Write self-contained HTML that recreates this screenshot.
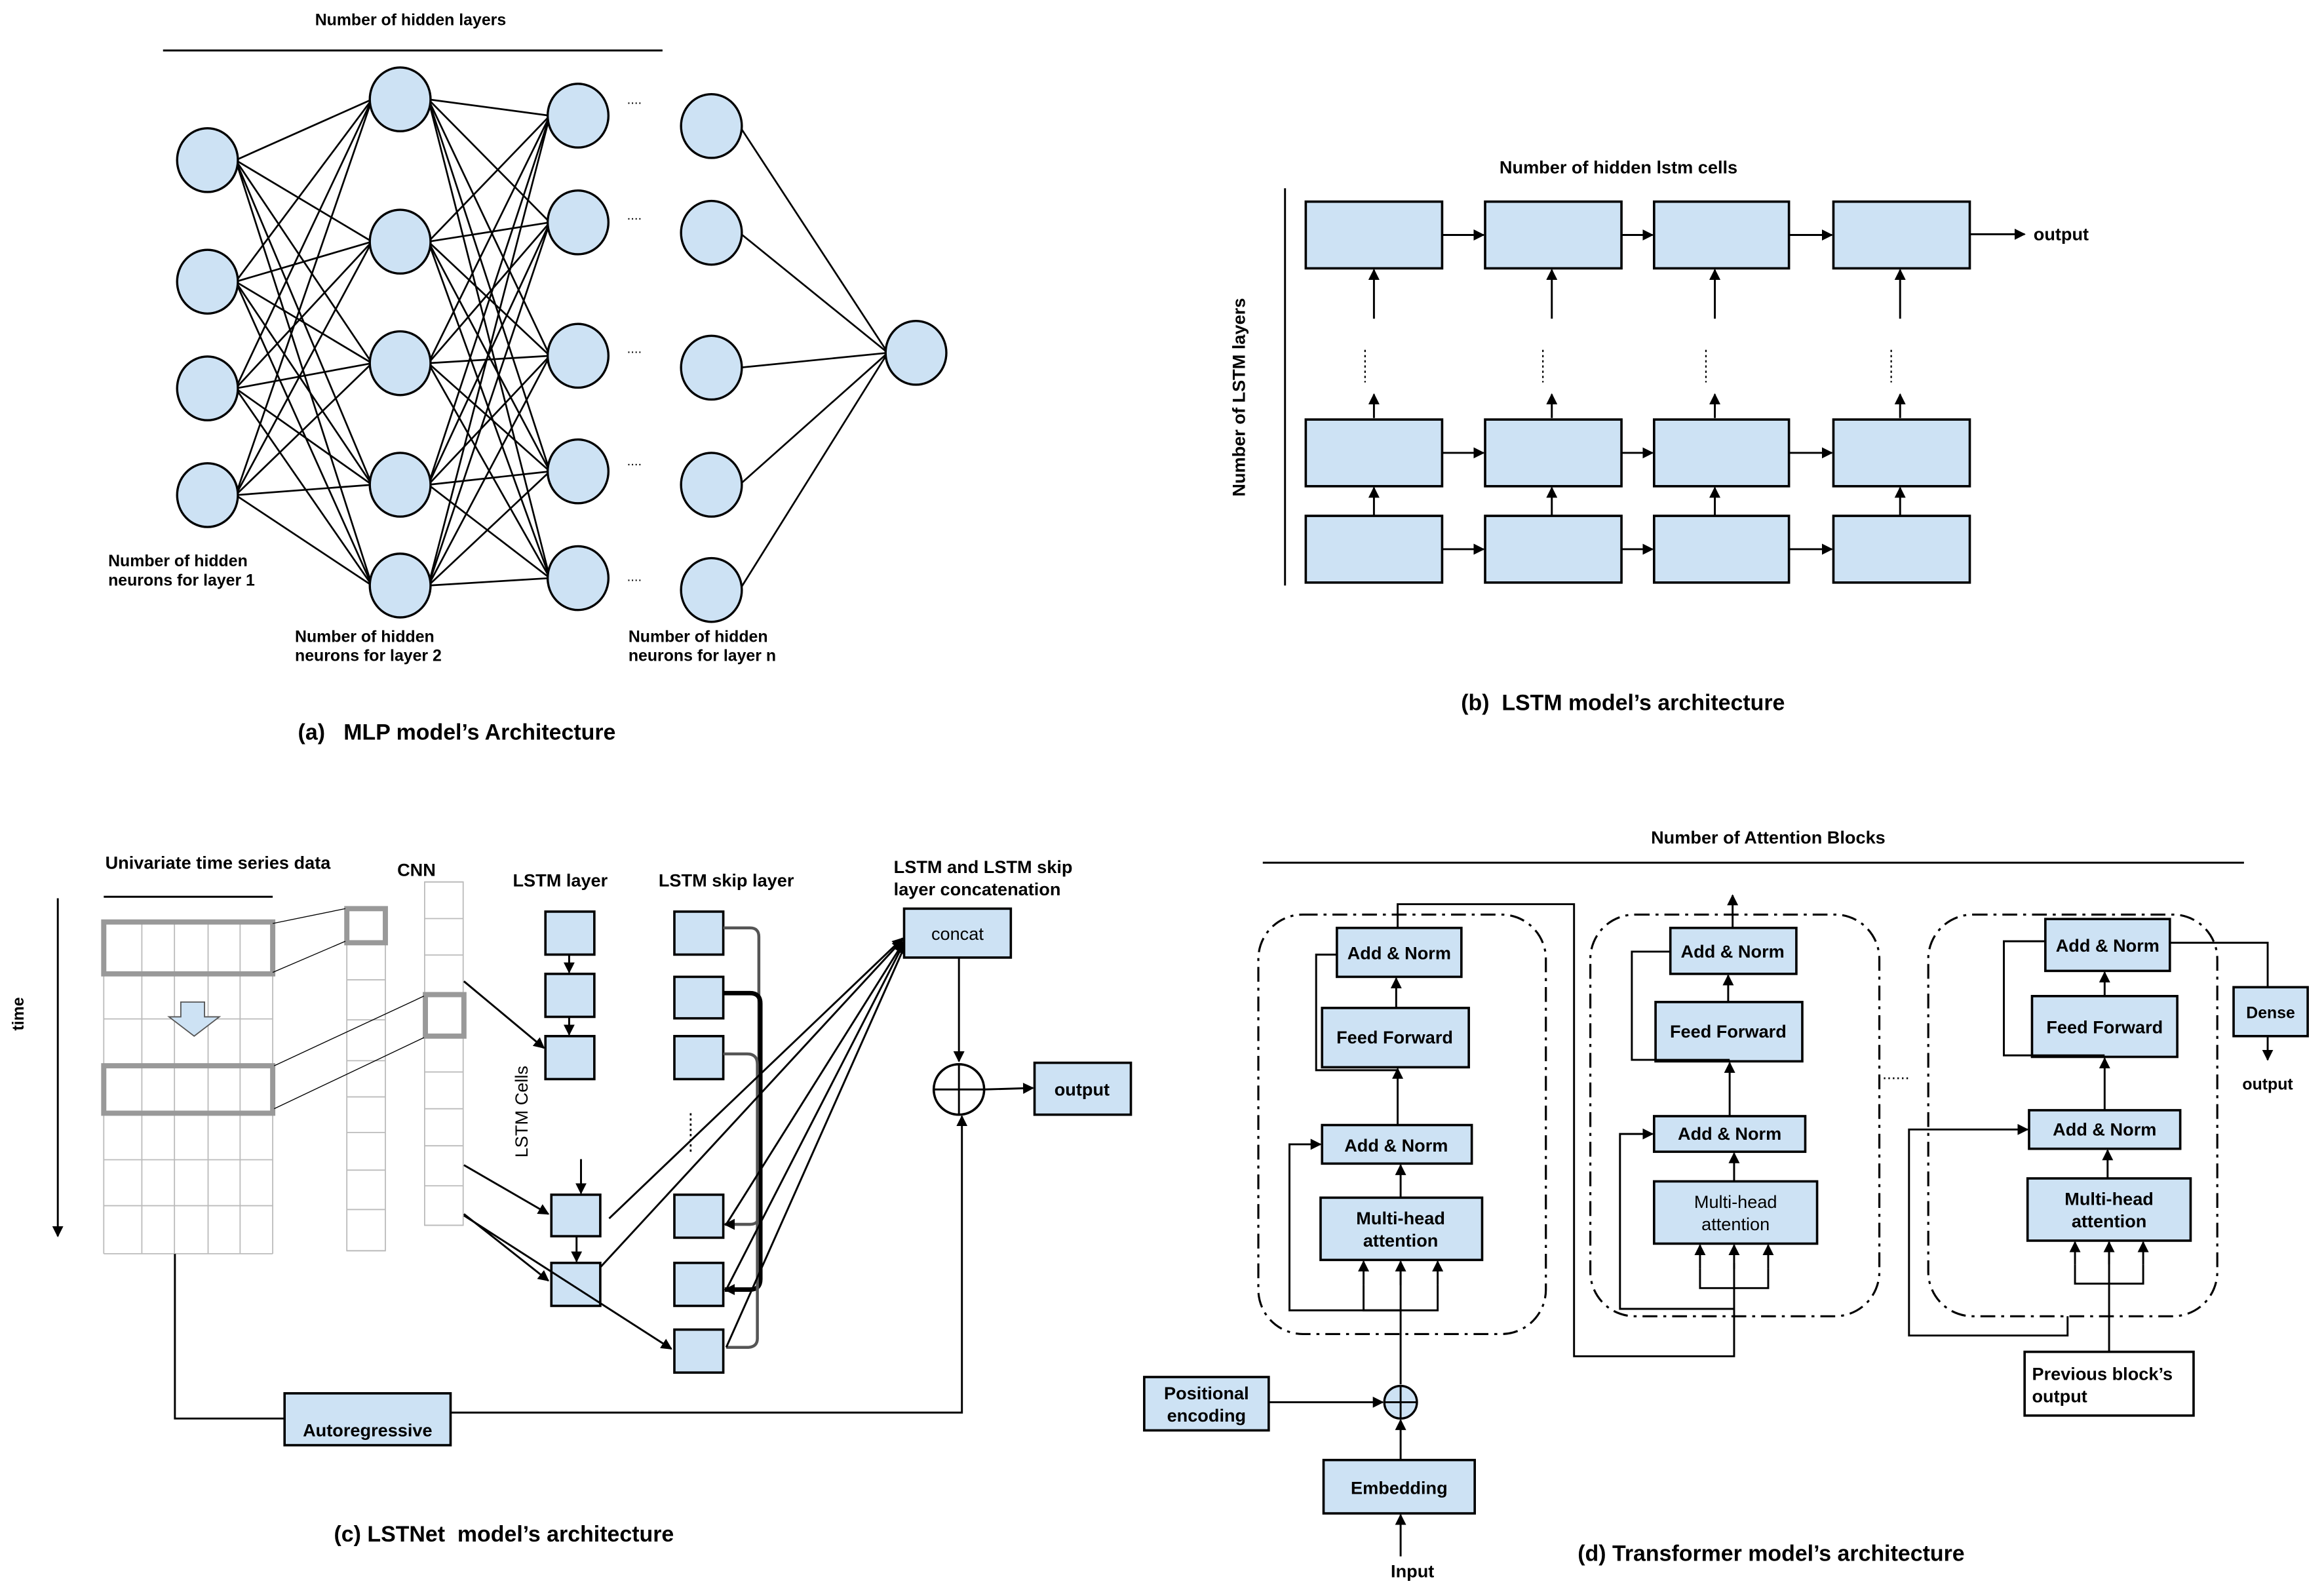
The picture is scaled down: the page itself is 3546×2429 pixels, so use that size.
<!DOCTYPE html>
<html><head><meta charset="utf-8"><style>
html,body{margin:0;padding:0;background:#fff}
svg{display:block}
text{font-family:"Liberation Sans",Arial,sans-serif;font-weight:bold;fill:#000}
.pre{white-space:pre}
.b{fill:#cde2f4;stroke:#000;stroke-width:1.6}
.l{stroke:#000;stroke-width:1.3;fill:none}
.d{fill:none;stroke:#000;stroke-width:1.4;stroke-dasharray:10 4 2 4}
</style></head><body>
<svg width="3546" height="2429" viewBox="0 0 1568 1074" xmlns="http://www.w3.org/2000/svg">
<defs>
<marker id="a" viewBox="0 0 10 10" refX="9" refY="5" markerWidth="7.5" markerHeight="7.5" markerUnits="userSpaceOnUse" orient="auto"><path d="M0,0L10,5L0,10z" fill="#000"/></marker>
</defs>
<rect width="1568" height="1074" fill="#fff"/>

<!-- (a) MLP -->
<text x="277" y="17" font-size="11" text-anchor="middle">Number of hidden layers</text>
<line class="l" x1="110" y1="34" x2="447" y2="34"/>
<g id="mlp"></g>
<g font-size="11">
<text x="73" y="382">Number of hidden</text><text x="73" y="395">neurons for layer 1</text>
<text x="199" y="433">Number of hidden</text><text x="199" y="446">neurons for layer 2</text>
<text x="424" y="433">Number of hidden</text><text x="424" y="446">neurons for layer n</text>
</g>
<g font-size="9" style="font-weight:normal">
<text x="423" y="70" style="font-weight:normal">....</text><text x="423" y="148" style="font-weight:normal">....</text><text x="423" y="238" style="font-weight:normal">....</text><text x="423" y="314" style="font-weight:normal">....</text><text x="423" y="392" style="font-weight:normal">....</text>
</g>
<text x="201" y="499" font-size="15" class="pre">(a)   MLP model’s Architecture</text>

<!-- (b) LSTM -->
<text x="1092" y="117" font-size="12" text-anchor="middle">Number of hidden lstm cells</text>
<line class="l" x1="867" y1="127" x2="867" y2="395"/>
<text transform="translate(840,268) rotate(-90)" font-size="12" text-anchor="middle">Number of LSTM layers</text>
<g id="lstm"></g>
<text x="1372" y="162" font-size="12">output</text>
<text x="1095" y="479" font-size="15" text-anchor="middle" class="pre">(b)  LSTM model’s architecture</text>

<!-- (c) LSTNet -->
<text x="71" y="586" font-size="12">Univariate time series data</text>
<line class="l" x1="70" y1="605" x2="184" y2="605"/>
<line class="l" x1="39" y1="606" x2="39" y2="834" marker-end="url(#a)" stroke-width="1.6"/>
<text transform="translate(16,684) rotate(-90)" font-size="11" text-anchor="middle">time</text>
<g id="grid"></g>
<text x="281" y="591" font-size="12" text-anchor="middle">CNN</text>
<text x="378" y="598" font-size="12" text-anchor="middle">LSTM layer</text>
<text x="490" y="598" font-size="12" text-anchor="middle">LSTM skip layer</text>
<text x="603" y="589" font-size="12">LSTM and LSTM skip</text>
<text x="603" y="604" font-size="12">layer concatenation</text>
<polygon points="122,676 138,676 138,686 148,686 131,699 114,686 122,686" fill="#cde2f4" stroke="#555" stroke-width="0.8"/>
<rect class="b" x="368" y="615" width="33" height="29"/>
<rect class="b" x="368" y="657" width="33" height="29"/>
<rect class="b" x="368" y="699" width="33" height="29"/>
<line class="l" x1="384" y1="644" x2="384" y2="656" marker-end="url(#a)"/>
<line class="l" x1="384" y1="686" x2="384" y2="698" marker-end="url(#a)"/>
<line class="l" x1="313" y1="662" x2="367" y2="707" marker-end="url(#a)"/>
<text transform="translate(356,750) rotate(-90)" font-size="12" text-anchor="middle" style="font-weight:normal">LSTM Cells</text>
<rect class="b" x="372" y="806" width="33" height="28"/>
<rect class="b" x="372" y="852" width="33" height="29"/>
<line class="l" x1="392" y1="782" x2="392" y2="805" marker-end="url(#a)"/>
<line class="l" x1="389" y1="834" x2="389" y2="851" marker-end="url(#a)"/>
<line class="l" x1="313" y1="786" x2="370" y2="819" marker-end="url(#a)"/>
<line class="l" x1="313" y1="819" x2="370" y2="864" marker-end="url(#a)"/>
<line class="l" x1="313" y1="820" x2="453" y2="910" marker-end="url(#a)"/>
<rect class="b" x="455" y="615" width="33" height="29"/>
<rect class="b" x="455" y="659" width="33" height="28"/>
<rect class="b" x="455" y="699" width="33" height="29"/>
<rect class="b" x="455" y="806" width="33" height="29"/>
<rect class="b" x="455" y="852" width="33" height="29"/>
<rect class="b" x="455" y="897" width="33" height="29"/>
<line x1="466" y1="751" x2="466" y2="778" stroke="#000" stroke-width="1.2" stroke-dasharray="1.5 2"/>
<path d="M488,626 L506,626 Q512,626 512,632 L512,820 Q512,826 506,826 L489,826" fill="none" stroke="#555" stroke-width="2" marker-end="url(#a)"/>
<path d="M488,670 L506,670 Q513,670 513,677 L513,863 Q513,870 506,870 L489,870" fill="none" stroke="#000" stroke-width="3" marker-end="url(#a)"/>
<path d="M488,711 L504,711 Q511,711 511,718 L511,903 Q511,909 504,909 L490,909" fill="none" stroke="#555" stroke-width="2"/>
<line class="l" x1="411" y1="822" x2="609" y2="633" marker-end="url(#a)"/>
<line class="l" x1="405" y1="855" x2="609" y2="634" marker-end="url(#a)"/>
<line class="l" x1="490" y1="826" x2="610" y2="635" marker-end="url(#a)"/>
<line class="l" x1="490" y1="870" x2="610" y2="636" marker-end="url(#a)"/>
<line class="l" x1="490" y1="909" x2="611" y2="637" marker-end="url(#a)"/>
<rect class="b" x="610" y="613" width="72" height="33"/>
<text x="646" y="634" font-size="12" text-anchor="middle" style="font-weight:normal">concat</text>
<line class="l" x1="647" y1="646" x2="647" y2="716" marker-end="url(#a)"/>
<circle cx="647" cy="735" r="17" fill="none" stroke="#000" stroke-width="1.6"/>
<line class="l" x1="630" y1="735" x2="664" y2="735"/><line class="l" x1="647" y1="718" x2="647" y2="752"/>
<line class="l" x1="664" y1="735" x2="697" y2="734" marker-end="url(#a)" stroke-width="0.8"/>
<rect class="b" x="698" y="717" width="65" height="35"/>
<text x="730" y="739" font-size="12" text-anchor="middle">output</text>
<polyline class="l" points="118,846 118,957 192,957"/>
<rect class="b" x="192" y="940" width="112" height="35"/>
<text x="248" y="969" font-size="12" text-anchor="middle">Autoregressive</text>
<polyline class="l" points="304,953 649,953 649,753" marker-end="url(#a)"/>
<text x="340" y="1040" font-size="15" text-anchor="middle" class="pre">(c) LSTNet  model’s architecture</text>

<!-- (d) Transformer -->
<text x="1193" y="569" font-size="12" text-anchor="middle">Number of Attention Blocks</text>
<line class="l" x1="852" y1="582" x2="1514" y2="582"/>
<rect class="d" x="849" y="617" width="194" height="283" rx="30"/>
<rect class="d" x="1073" y="617" width="195" height="271" rx="30"/>
<rect class="d" x="1301" y="617" width="195" height="271" rx="30"/>
<g font-size="12" text-anchor="middle">
<rect class="b" x="902" y="626" width="84" height="33"/><text x="944" y="647">Add &amp; Norm</text>
<rect class="b" x="892" y="680" width="99" height="40"/><text x="941" y="704">Feed Forward</text>
<rect class="b" x="892" y="759" width="101" height="26"/><text x="942" y="777">Add &amp; Norm</text>
<rect class="b" x="891" y="808" width="109" height="42"/><text x="945" y="826">Multi-head</text><text x="945" y="841">attention</text>
<rect class="b" x="1127" y="626" width="85" height="31"/><text x="1169" y="646">Add &amp; Norm</text>
<rect class="b" x="1117" y="676" width="99" height="40"/><text x="1166" y="700">Feed Forward</text>
<rect class="b" x="1116" y="753" width="102" height="24"/><text x="1167" y="769">Add &amp; Norm</text>
<rect class="b" x="1116" y="797" width="110" height="42"/><text x="1171" y="815" style="font-weight:normal">Multi-head</text><text x="1171" y="830" style="font-weight:normal">attention</text>
<rect class="b" x="1380" y="620" width="84" height="35"/><text x="1422" y="642">Add &amp; Norm</text>
<rect class="b" x="1371" y="672" width="98" height="41"/><text x="1420" y="697">Feed Forward</text>
<rect class="b" x="1369" y="749" width="102" height="26"/><text x="1420" y="766">Add &amp; Norm</text>
<rect class="b" x="1368" y="795" width="110" height="42"/><text x="1423" y="813">Multi-head</text><text x="1423" y="828">attention</text>
<rect x="1366" y="912" width="114" height="43" fill="#fff" stroke="#000" stroke-width="1.6"/>
<text x="1371" y="931" text-anchor="start">Previous block’s</text><text x="1371" y="946" text-anchor="start">output</text>
<rect class="b" x="1507" y="666" width="50" height="33"/><text x="1532" y="687" font-size="11">Dense</text>
<text x="1530" y="735" font-size="11">output</text>
<rect class="b" x="772" y="929" width="84" height="36"/><text x="814" y="944">Positional</text><text x="814" y="959">encoding</text>
<rect class="b" x="893" y="985" width="102" height="36"/><text x="944" y="1008">Embedding</text>
<text x="953" y="1064" font-size="12">Input</text>
</g>
<line class="l" x1="945" y1="934" x2="945" y2="852"/>
<polyline class="l" points="920,867 920,884 970,884 970,867"/>
<line class="l" x1="920" y1="867" x2="920" y2="851" marker-end="url(#a)"/>
<line class="l" x1="945" y1="867" x2="945" y2="851" marker-end="url(#a)"/>
<line class="l" x1="970" y1="867" x2="970" y2="851" marker-end="url(#a)"/>
<polyline class="l" points="945,884 870,884 870,772 891,772" marker-end="url(#a)"/>
<line class="l" x1="945" y1="808" x2="945" y2="786" marker-end="url(#a)"/>
<line class="l" x1="943" y1="759" x2="943" y2="721" marker-end="url(#a)"/>
<line class="l" x1="942" y1="680" x2="942" y2="660" marker-end="url(#a)"/>
<polyline class="l" points="902,644 888,644 888,722 943,722"/>
<polyline class="l" points="943,626 943,610 1062,610 1062,915 1170,915 1170,852"/>
<polyline class="l" points="1147,856 1147,869 1193,869 1193,856"/>
<line class="l" x1="1147" y1="856" x2="1147" y2="840" marker-end="url(#a)"/>
<line class="l" x1="1170" y1="856" x2="1170" y2="840" marker-end="url(#a)"/>
<line class="l" x1="1193" y1="856" x2="1193" y2="840" marker-end="url(#a)"/>
<polyline class="l" points="1170,883 1093,883 1093,765 1115,765" marker-end="url(#a)"/>
<line class="l" x1="1170" y1="797" x2="1170" y2="778" marker-end="url(#a)"/>
<line class="l" x1="1167" y1="753" x2="1167" y2="717" marker-end="url(#a)"/>
<line class="l" x1="1166" y1="676" x2="1166" y2="658" marker-end="url(#a)"/>
<polyline class="l" points="1127,642 1101,642 1101,715 1167,715"/>
<line class="l" x1="1169" y1="626" x2="1169" y2="604" marker-end="url(#a)"/>
<text x="1270" y="728" font-size="11" style="font-weight:normal">......</text>
<line class="l" x1="1423" y1="912" x2="1423" y2="838"/>
<polyline class="l" points="1400,853 1400,866 1446,866 1446,853"/>
<line class="l" x1="1400" y1="853" x2="1400" y2="838" marker-end="url(#a)"/>
<line class="l" x1="1423" y1="853" x2="1423" y2="838" marker-end="url(#a)"/>
<line class="l" x1="1446" y1="853" x2="1446" y2="838" marker-end="url(#a)"/>
<polyline class="l" points="1395,888 1395,901 1288,901 1288,762 1368,762" marker-end="url(#a)"/>
<line class="l" x1="1422" y1="795" x2="1422" y2="776" marker-end="url(#a)"/>
<line class="l" x1="1420" y1="749" x2="1420" y2="714" marker-end="url(#a)"/>
<line class="l" x1="1420" y1="672" x2="1420" y2="656" marker-end="url(#a)"/>
<polyline class="l" points="1380,635 1352,635 1352,712 1420,712"/>
<polyline class="l" points="1464,636 1530,636 1530,666"/>
<line class="l" x1="1530" y1="699" x2="1530" y2="715" marker-end="url(#a)"/>
<line class="l" x1="856" y1="946" x2="933" y2="946" marker-end="url(#a)"/>
<circle cx="945" cy="946" r="11" fill="#cde2f4" stroke="#000" stroke-width="1.5"/>
<line class="l" x1="934" y1="946" x2="956" y2="946"/><line class="l" x1="945" y1="935" x2="945" y2="957"/>
<line class="l" x1="945" y1="985" x2="945" y2="958" marker-end="url(#a)"/>
<line class="l" x1="945" y1="1050" x2="945" y2="1022" marker-end="url(#a)"/>
<text x="1195" y="1053" font-size="15" text-anchor="middle">(d) Transformer model’s architecture</text>
</svg>
<script>
var NS="http://www.w3.org/2000/svg";
function el(p,t,a){var e=document.createElementNS(NS,t);for(var k in a)e.setAttribute(k,a[k]);p.appendChild(e);return e;}
var m=document.getElementById("mlp");
var c1=[[140,108],[140,190],[140,262],[140,334]],
c2=[[270,67],[270,163],[270,245],[270,327],[270,395]],
c3=[[390,78],[390,150],[390,240],[390,318],[390,390]],
c4=[[480,85],[480,157],[480,248],[480,327],[480,398]],o=[618,238];
function conn(A,B){A.forEach(function(a){B.forEach(function(b){el(m,"line",{x1:a[0]+19,y1:a[1],x2:b[0]-19,y2:b[1],stroke:"#000","stroke-width":1.2});});});}
conn(c1,c2);conn(c2,c3);conn(c4,[o]);
[c1,c2,c3,c4,[o]].forEach(function(C){C.forEach(function(p){el(m,"ellipse",{cx:p[0],cy:p[1],rx:20.5,ry:21.5,fill:"#cde2f4",stroke:"#000","stroke-width":1.5});});});
var L=document.getElementById("lstm");
var xs=[[881,973],[1002,1094],[1116,1207],[1237,1329]],rows=[[136,181],[283,328],[348,393]];
rows.forEach(function(r){xs.forEach(function(x,i){el(L,"rect",{x:x[0],y:r[0],width:x[1]-x[0],height:r[1]-r[0],fill:"#cde2f4",stroke:"#000","stroke-width":1.6});
var y=(r[0]+r[1])/2;if(i<3)el(L,"line",{x1:x[1],y1:y,x2:xs[i+1][0]-1,y2:y,stroke:"#000","stroke-width":1.3,"marker-end":"url(#a)"});});});
el(L,"line",{x1:1329,y1:158,x2:1366,y2:158,stroke:"#000","stroke-width":1.3,"marker-end":"url(#a)"});
[927,1047,1157,1282].forEach(function(x,i){
el(L,"line",{x1:x,y1:215,x2:x,y2:182,stroke:"#000","stroke-width":1.3,"marker-end":"url(#a)"});
el(L,"line",{x1:x-6,y1:236,x2:x-6,y2:258,stroke:"#000","stroke-width":1,"stroke-dasharray":"1.5 2"});
el(L,"line",{x1:x,y1:282,x2:x,y2:266,stroke:"#000","stroke-width":1.3,"marker-end":"url(#a)"});
el(L,"line",{x1:x,y1:348,x2:x,y2:329,stroke:"#000","stroke-width":1.3,"marker-end":"url(#a)"});});
var g=document.getElementById("grid");
var gx=[70,95.7,117.7,140.4,162,184],gy=[621.7,657,687.4,719,751.4,782.4,813.4,845.8];
gx.forEach(function(x){el(g,"line",{x1:x,y1:621.7,x2:x,y2:845.8,stroke:"#bbb","stroke-width":0.8});});
gy.forEach(function(y){el(g,"line",{x1:70,y1:y,x2:184,y2:y,stroke:"#bbb","stroke-width":0.8});});
el(g,"rect",{x:70,y:622,width:114,height:35,fill:"none",stroke:"#999","stroke-width":3.5});
el(g,"rect",{x:70,y:719,width:114,height:32,fill:"none",stroke:"#999","stroke-width":3.5});
var cy1=[611.8,637,661,688,715.6,740,764,789.4,816,843.8];
el(g,"rect",{x:234,y:611.8,width:26,height:232,fill:"none",stroke:"#bbb","stroke-width":0.8});
cy1.forEach(function(y){el(g,"line",{x1:234,y1:y,x2:260,y2:y,stroke:"#bbb","stroke-width":0.8});});
var cy2=[595,619.7,644.3,669.6,698.4,723.2,748,773,800,826.6];
el(g,"rect",{x:286.5,y:595,width:26,height:231.6,fill:"none",stroke:"#bbb","stroke-width":0.8});
cy2.forEach(function(y){el(g,"line",{x1:286.5,y1:y,x2:312.5,y2:y,stroke:"#bbb","stroke-width":0.8});});
el(g,"rect",{x:234,y:613,width:26,height:23,fill:"none",stroke:"#999","stroke-width":3.5});
el(g,"rect",{x:287,y:671,width:26,height:28,fill:"none",stroke:"#999","stroke-width":3.5});
[[184,623,233,613],[184,656,233,635],[185,719,286,672],[185,748,286,700]].forEach(function(p){el(g,"line",{x1:p[0],y1:p[1],x2:p[2],y2:p[3],stroke:"#000","stroke-width":0.6});});
</script>
</body></html>
